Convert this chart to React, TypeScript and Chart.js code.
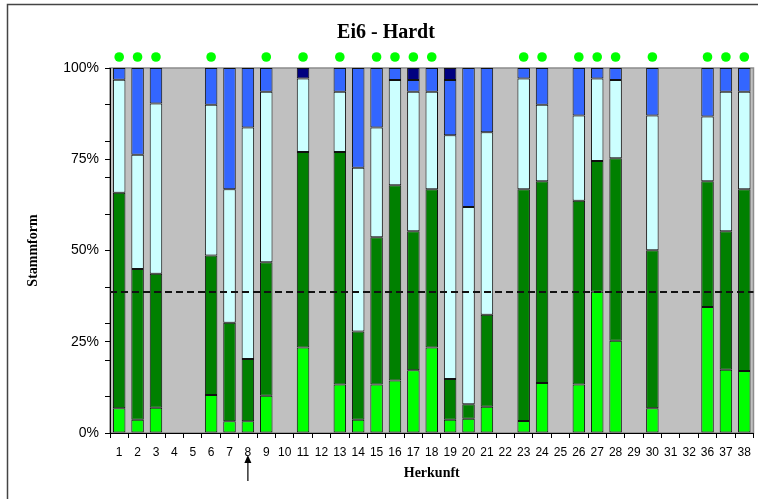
import React, { useEffect, useRef } from "react";
import { Chart, registerables } from "chart.js";

Chart.register(...registerables);

const categories = ["1","2","3","4","5","6","7","8","9","10","11","12","13","14","15","16","17","18","19","20","21","22","23","24","25","26","27","28","29","30","31","32","36","37","38"];

const lightGreen = [6.8,3.6,6.9,null,null,10.4,3.2,3.2,10.2,null,23.4,null,13.3,3.6,13.3,14.4,17.2,23.4,3.6,3.9,7.2,null,3.3,13.7,null,13.3,38.7,25.3,null,6.8,null,null,34.5,17.3,17.0];
const darkGreen = [59.0,41.3,36.7,null,null,38.2,27.0,17.1,36.6,null,53.6,null,63.7,24.2,40.3,53.5,38.1,43.4,11.2,4.0,25.2,null,63.5,55.3,null,50.3,35.8,50.0,null,43.3,null,null,34.5,38.0,49.8];
const lightCyan = [31.0,31.3,46.7,null,null,41.3,36.6,63.4,46.7,null,20.1,null,16.5,44.9,30.1,28.8,38.2,26.7,66.8,54.0,50.0,null,30.3,20.9,null,23.4,22.6,21.4,null,36.9,null,null,17.7,38.2,26.7];
const blue = [3.2,23.8,9.7,null,null,10.1,33.2,16.3,6.5,null,null,null,6.5,27.3,16.3,3.3,3.2,6.5,15.1,38.1,17.6,null,2.9,10.1,null,13.0,2.9,3.3,null,13.0,null,null,13.3,6.5,6.5];
const navy = [null,null,null,null,null,null,null,null,null,null,2.9,null,null,null,null,null,3.3,null,3.3,null,null,null,null,null,null,null,null,null,null,null,null,null,null,null,null];

const markedCategories = ["1","2","3","6","9","11","13","15","16","17","18","23","24","26","27","28","30","36","37","38"];
const referenceLevel = 38.6;
const arrowCategory = "8";
const yTickValues = [0,10,20,25,30,40,50,60,70,75,80,90,100];

const decorPlugin = {
  id: "decor",
  beforeDraw(chart: any) {
    const { ctx, width, height } = chart;
    ctx.save();
    ctx.fillStyle = "#ffffff";
    ctx.fillRect(0, 0, width, height);
    ctx.strokeStyle = "#444444";
    ctx.lineWidth = 1.5;
    ctx.strokeRect(7.5, 4.5, width + 20, height + 20);
    const a = chart.chartArea;
    ctx.fillStyle = "#C0C0C0";
    ctx.fillRect(a.left, a.top, a.right - a.left, a.bottom - a.top);
    ctx.strokeStyle = "#8c8c8c";
    ctx.lineWidth = 1.5;
    ctx.strokeRect(a.left, a.top, a.right - a.left, a.bottom - a.top);
    ctx.restore();
  },
  afterDatasetsDraw(chart: any) {
    const { ctx } = chart;
    const a = chart.chartArea;
    const xs = chart.scales.x;
    const ys = chart.scales.y;
    ctx.save();
    const yRef = ys.getPixelForValue(referenceLevel);
    ctx.strokeStyle = "#111111";
    ctx.lineWidth = 2;
    ctx.setLineDash([7, 4]);
    ctx.beginPath();
    ctx.moveTo(a.left, yRef);
    ctx.lineTo(a.right, yRef);
    ctx.stroke();
    ctx.setLineDash([]);
    ctx.fillStyle = "#00FF00";
    markedCategories.forEach((c) => {
      const i = categories.indexOf(c);
      const x = xs.getPixelForValue(i);
      ctx.beginPath();
      ctx.arc(x, a.top - 11, 4.8, 0, Math.PI * 2);
      ctx.fill();
    });
    ctx.restore();
  },
  afterDraw(chart: any) {
    const { ctx } = chart;
    const a = chart.chartArea;
    const xs = chart.scales.x;
    const x = xs.getPixelForValue(categories.indexOf(arrowCategory));
    ctx.save();
    ctx.strokeStyle = "#000";
    ctx.fillStyle = "#000";
    ctx.lineWidth = 1.2;
    const tip = a.bottom + 22;
    ctx.beginPath();
    ctx.moveTo(x, a.bottom + 48);
    ctx.lineTo(x, tip + 6);
    ctx.stroke();
    ctx.beginPath();
    ctx.moveTo(x, tip);
    ctx.lineTo(x - 3.5, tip + 8);
    ctx.lineTo(x + 3.5, tip + 8);
    ctx.closePath();
    ctx.fill();
    ctx.restore();
  },
};

export default function App() {
  const ref = useRef<HTMLCanvasElement | null>(null);
  useEffect(() => {
    if (!ref.current) return;
    const mk = (label: string, data: (number | null)[], color: string) => ({
      label,
      data,
      backgroundColor: color,
      borderColor: "#111111",
      borderWidth: 1,
      borderSkipped: false,
      barPercentage: 0.68,
      categoryPercentage: 1,
    });
    const chart = new Chart(ref.current, {
      type: "bar",
      data: {
        labels: categories,
        datasets: [
          mk("1", lightGreen, "#00FF00"),
          mk("2", darkGreen, "#008000"),
          mk("3", lightCyan, "#CCFFFF"),
          mk("4", blue, "#3366FF"),
          mk("5", navy, "#000080"),
        ],
      },
      options: {
        animation: false,
        responsive: true,
        maintainAspectRatio: false,
        layout: { padding: { left: 16, right: 2, top: 0, bottom: 0 } },
        plugins: {
          legend: { display: false },
          tooltip: { enabled: false },
          title: {
            display: true,
            text: "Ei6 - Hardt",
            color: "#000",
            font: { family: "'Liberation Serif', 'DejaVu Serif', serif", size: 20, weight: "bold", lineHeight: 1.2 },
            padding: { top: 21, bottom: 23 },
          },
        },
        scales: {
          x: {
            stacked: true,
            offset: true,
            grid: { display: true, drawOnChartArea: false, drawTicks: true, tickLength: 5, offset: true, color: "#000" },
            border: { display: true, color: "#000", width: 1 },
            ticks: {
              autoSkip: false,
              maxRotation: 0,
              minRotation: 0,
              color: "#000",
              padding: 7,
              font: { family: "'Liberation Sans Narrow', 'Liberation Sans', Arial, sans-serif", size: 12 },
            },
            title: {
              display: true,
              text: "Herkunft",
              color: "#000",
              font: { family: "'Liberation Serif', 'DejaVu Serif', serif", size: 14, weight: "bold", lineHeight: 1.2 },
              padding: { top: 0, bottom: 17 },
            },
            afterFit(scale: any) {
              scale.height = 66;
            },
          },
          y: {
            stacked: true,
            min: 0,
            max: 100,
            afterBuildTicks(scale: any) {
              scale.ticks = yTickValues.map((v) => ({ value: v }));
            },
            grid: { display: true, drawOnChartArea: false, drawTicks: true, tickLength: 5, color: "#000" },
            border: { display: true, color: "#000", width: 1 },
            ticks: {
              color: "#000",
              padding: 6,
              autoSkip: false,
              font: { family: "'Liberation Sans', Arial, sans-serif", size: 14 },
              callback: (v: any) => (Number(v) % 25 === 0 ? `${v}%` : ""),
            },
            title: {
              display: true,
              text: "Stammform",
              color: "#000",
              font: { family: "'Liberation Serif', 'DejaVu Serif', serif", size: 14, weight: "bold", lineHeight: 1.2 },
              padding: { top: 9, bottom: 0 },
            },
            afterFit(scale: any) {
              scale.width = 94;
            },
          },
        },
      },
      plugins: [decorPlugin],
    } as any);
    return () => chart.destroy();
  }, []);
  return (
    <div style={{ position: "absolute", left: 0, top: 0, width: 758, height: 499 }}>
      <canvas ref={ref} />
    </div>
  );
}
